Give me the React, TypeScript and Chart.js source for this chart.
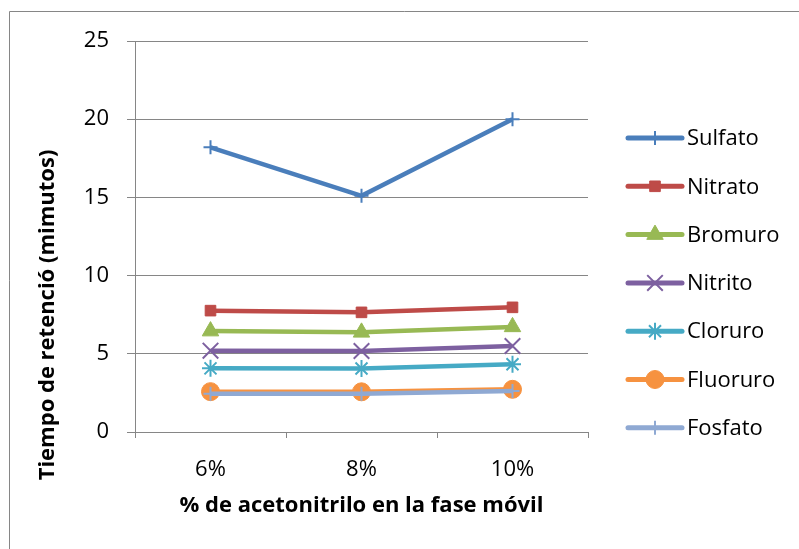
import React, { useEffect, useRef } from 'react';
import { Chart, registerables } from 'chart.js';
import { drawPoint } from 'chart.js/helpers';

Chart.register(...registerables);

// Categories (x axis) and retention times per anion
const categories = ['6%', '8%', '10%'];
const seriesNames = ['Sulfato', 'Nitrato', 'Bromuro', 'Nitrito', 'Cloruro', 'Fluoruro', 'Fosfato'];
const sulfato = [18.2, 15.1, 20.0];
const nitrato = [7.76, 7.65, 7.97];
const bromuro = [6.45, 6.37, 6.72];
const nitrito = [5.2, 5.18, 5.5];
const cloruro = [4.07, 4.06, 4.33];
const fluoruro = [2.58, 2.57, 2.73];
const fosfato = [2.45, 2.45, 2.62];
const yMin = 0;
const yMax = 25;
const yStep = 5;

const xTitle = '% de acetonitrilo en la fase móvil';
const yTitle = 'Tiempo de retenció (mimutos)';

const seriesValues = [sulfato, nitrato, bromuro, nitrito, cloruro, fluoruro, fosfato];
const colors = ['#4A7EBB', '#BE4B48', '#98B954', '#7D60A0', '#46AAC5', '#F69240', '#8FA9D3'];
const markers = [
  { style: 'cross', radius: 7, border: 2 },
  { style: 'rect', radius: 7.5, border: 1 },
  { style: 'triangle', radius: 9.5, border: 1 },
  { style: 'crossRot', radius: 11, border: 2 },
  { style: 'star', radius: 8.5, border: 2 },
  { style: 'circle', radius: 9, border: 1 },
  { style: 'cross', radius: 7, border: 2 },
];

const FONT = '"Open Sans", "Liberation Sans", sans-serif';
const GRID = '#868686';

const decorations = {
  id: 'decorations',
  afterDraw(chart: any) {
    const ctx = chart.ctx as CanvasRenderingContext2D;
    ctx.save();
    // outer frame
    ctx.strokeStyle = GRID;
    ctx.lineWidth = 1;
    ctx.beginPath();
    ctx.moveTo(9.5, 549);
    ctx.lineTo(9.5, 11.5);
    ctx.lineTo(799, 11.5);
    ctx.stroke();

    // axis titles
    ctx.fillStyle = '#000';
    ctx.font = `bold 22px ${FONT}`;
    ctx.textAlign = 'center';
    ctx.textBaseline = 'middle';
    const area = chart.chartArea;
    ctx.fillText(xTitle, (area.left + area.right) / 2, 506);
    ctx.save();
    ctx.translate(48, 315);
    ctx.rotate(-Math.PI / 2);
    ctx.fillText(yTitle, 0, 0);
    ctx.restore();

    // legend
    ctx.font = `22px ${FONT}`;
    ctx.textAlign = 'left';
    seriesNames.forEach((name, i) => {
      const y = 138 + i * 48.3;
      ctx.strokeStyle = colors[i];
      ctx.fillStyle = colors[i];
      ctx.lineWidth = 5;
      ctx.lineCap = 'round';
      ctx.beginPath();
      ctx.moveTo(628, y);
      ctx.lineTo(682, y);
      ctx.stroke();
      ctx.lineCap = 'butt';
      ctx.lineWidth = markers[i].border;
      drawPoint(ctx, { pointStyle: markers[i].style as any, radius: markers[i].radius, borderWidth: markers[i].border, rotation: 0 }, 655, y);
      ctx.fillStyle = '#000';
      ctx.fillText(name, 687, y + 1);
    });
    ctx.restore();
  },
};

export default function App() {
  const canvasRef = useRef<HTMLCanvasElement | null>(null);

  useEffect(() => {
    if (!canvasRef.current) return;
    const chart = new Chart(canvasRef.current, {
      type: 'line',
      data: {
        labels: categories,
        datasets: seriesNames.map((name, i) => ({
          label: name,
          data: seriesValues[i],
          borderColor: colors[i],
          backgroundColor: colors[i],
          borderWidth: 4.5,
          pointStyle: markers[i].style as any,
          pointRadius: markers[i].radius,
          pointBorderWidth: markers[i].border,
          pointBackgroundColor: colors[i],
          pointBorderColor: colors[i],
          tension: 0,
          order: seriesNames.length - i,
        })),
      },
      options: {
        responsive: false,
        animation: false,
        devicePixelRatio: 1,
        layout: { padding: { top: 41, right: 211, left: 0, bottom: 0 } },
        plugins: {
          legend: { display: false },
          tooltip: { enabled: false },
          title: { display: false },
        },
        scales: {
          x: {
            type: 'category',
            offset: true,
            grid: { offset: true, drawOnChartArea: false, drawTicks: true, tickLength: 6, color: GRID },
            border: { display: true, color: GRID },
            ticks: { color: '#000', font: { family: FONT, size: 22 }, padding: 19, maxRotation: 0 },
            afterFit: (scale: any) => { scale.height = 117; },
          },
          y: {
            min: yMin,
            max: yMax,
            ticks: { stepSize: yStep, color: '#000', font: { family: FONT, size: 22 }, padding: 18 },
            grid: { color: GRID, tickLength: 8, drawTicks: true },
            border: { display: true, color: GRID },
            afterFit: (scale: any) => { scale.width = 135; },
          },
        },
      },
      plugins: [decorations],
    });
    return () => chart.destroy();
  }, []);

  return (
    <div style={{ position: 'absolute', left: 0, top: 0, width: 799, height: 549, background: '#fff' }}>
      <canvas ref={canvasRef} width={799} height={549} />
    </div>
  );
}
